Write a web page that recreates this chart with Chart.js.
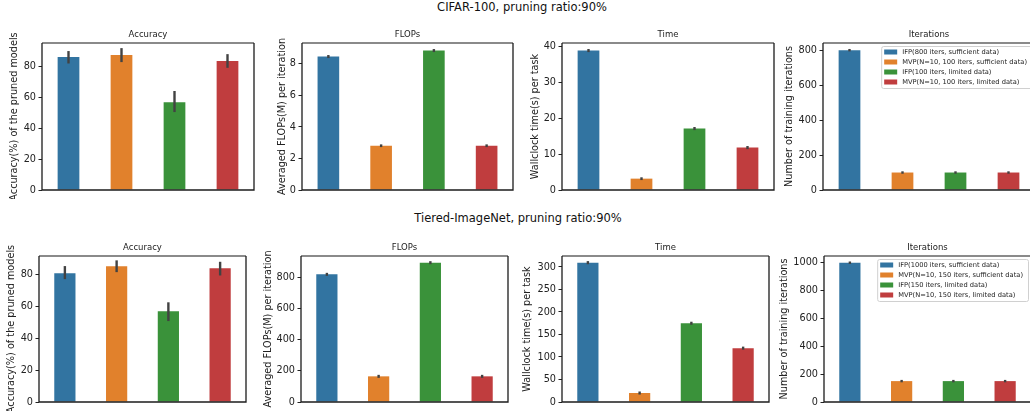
<!DOCTYPE html>
<html>
<head>
<meta charset="utf-8">
<script src="https://cdn.jsdelivr.net/npm/chart.js@4.4.1/dist/chart.umd.min.js"></script>
<style>
  body { margin: 0; width: 1030px; height: 414px; overflow: hidden; position: relative; background: #fff; font-family: "DejaVu Sans", sans-serif; }
  .sup { position: absolute; width: 400px; text-align: center; font-size: 11.5px; line-height: 14px; color: #111; }
  .panel { position: absolute; }
</style>
</head>
<body>
<div class="sup" style="left:322px; top:0px;">CIFAR-100, pruning ratio:90%</div>
<div class="sup" style="left:318px; top:211px;">Tiered-ImageNet, pruning ratio:90%</div>

<script>
'use strict'

// ---- data ----
let panelTitles = ['Accuracy', 'FLOPs', 'Time', 'Iterations'];
let yTitles = ['Accuracy(%) of the pruned models', 'Averaged FLOPs(M) per iteration',
  'Wallclock time(s) per task', 'Number of training iterations'];

let cifarLabels = ['IFP(800 iters, sufficient data)', 'MVP(N=10, 100 iters, sufficient data)',
  'IFP(100 iters, limited data)', 'MVP(N=10, 100 iters, limited data)'];
let tieredLabels = ['IFP(1000 iters, sufficient data)', 'MVP(N=10, 150 iters, sufficient data)',
  'IFP(150 iters, limited data)', 'MVP(N=10, 150 iters, limited data)'];

// CIFAR-100
let cifarAccuracy = [86.3, 87.5, 56.9, 83.7];
let cifarAccuracyLow = [82.8, 83.7, 51.3, 80.0];
let cifarAccuracyHigh = [89.3, 91.2, 63.4, 87.3];
let cifarFlops = [8.47, 2.81, 8.85, 2.81];
let cifarFlopsLow = [8.45, 2.80, 8.83, 2.80];
let cifarFlopsHigh = [8.49, 2.82, 8.87, 2.82];
let cifarTime = [38.8, 3.16, 17.1, 11.8];
let cifarTimeLow = [38.7, 3.1, 17.0, 11.7];
let cifarTimeHigh = [38.9, 3.2, 17.2, 11.9];
let cifarIters = [800, 100, 100, 100];

// Tiered-ImageNet
let tieredAccuracy = [81.0, 85.4, 57.2, 84.2];
let tieredAccuracyLow = [78.1, 82.5, 51.7, 80.4];
let tieredAccuracyHigh = [84.8, 88.4, 62.0, 87.5];
let tieredFlops = [821, 165, 896, 165];
let tieredFlopsLow = [819, 163, 894, 163];
let tieredFlopsHigh = [823, 167, 898, 167];
let tieredTime = [309.6, 20, 175, 119.7];
let tieredTimeLow = [308.8, 19.3, 174.3, 119.0];
let tieredTimeHigh = [310.4, 20.7, 175.7, 120.4];
let tieredIters = [1000, 150, 150, 150];

// tick labels and axis tops
let cifarTicks = [[0, 20, 40, 60, 80], [0, 2, 4, 6, 8], [0, 10, 20, 30, 40], [0, 200, 400, 600, 800]];
let cifarAxisMax = [95.3, 9.33, 40.9, 841];
let tieredTicks = [[0, 20, 40, 60, 80], [0, 200, 400, 600, 800], [0, 50, 100, 150, 200, 250, 300], [0, 200, 400, 600, 800, 1000]];
let tieredAxisMax = [91.9, 939, 324.4, 1048];

let colors = ['#3274a1', '#e1812c', '#3a923a', '#c03d3e'];

// ---- layout (pixels) ----
let rows = [
  { top: 43, bottom: 190, lefts: [42, 302, 562, 823], widths: [212, 211, 212, 212], titleOffsets: [28, 20, 27, 34] },
  { top: 256, bottom: 402, lefts: [39, 301, 562, 824], widths: [207, 207, 207, 207], titleOffsets: [28, 33, 35, 40] }
];

let fontFam = '"DejaVu Sans", sans-serif';
let tickFont = 9.7, yTitleFont = 9.7, titleFont = 8.5, tickPad = 2.5, tickLen = 3.5;
let titlePadTop = 3, titlePadBottom = 3;

// ---- plugins ----
let errorBars = {
  id: 'errorBars',
  afterDatasetsDraw(chart) {
    let ds = chart.data.datasets[0];
    if (!ds.errLow) return;
    let meta = chart.getDatasetMeta(0);
    let y = chart.scales.y;
    let ctx = chart.ctx;
    ctx.save();
    ctx.strokeStyle = '#424242';
    ctx.lineWidth = 2.4;
    ctx.lineCap = 'square';
    for (let i = 0; i < meta.data.length; i++) {
      let x = meta.data[i].x;
      ctx.beginPath();
      ctx.moveTo(x, y.getPixelForValue(ds.errLow[i]));
      ctx.lineTo(x, y.getPixelForValue(ds.errHigh[i]));
      ctx.stroke();
    }
    ctx.restore();
  }
};

let frame = {
  id: 'frame',
  afterDraw(chart) {
    let a = chart.chartArea, ctx = chart.ctx;
    ctx.save();
    ctx.strokeStyle = '#8a8a8a';
    ctx.lineWidth = 2;
    ctx.beginPath(); ctx.moveTo(a.left, a.top); ctx.lineTo(a.right, a.top); ctx.stroke();
    ctx.strokeStyle = '#1c1c1c';
    ctx.lineWidth = 1.3;
    ctx.beginPath();
    ctx.moveTo(a.left, a.top); ctx.lineTo(a.left, a.bottom);
    ctx.lineTo(a.right, a.bottom); ctx.lineTo(a.right, a.top);
    ctx.stroke();
    ctx.restore();
  }
};

let boxLegend = {
  id: 'boxLegend',
  afterDraw(chart, args, opts) {
    if (!opts.show) return;
    let a = chart.chartArea, ctx = chart.ctx;
    let labels = chart.data.labels;
    let fs = 6.7, pad = 3, patchW = 13, patchH = 5, gap = 5, rowH = 10;
    ctx.save();
    ctx.font = fs + 'px ' + fontFam;
    let textW = Math.max(...labels.map(l => ctx.measureText(l).width));
    let boxW = pad + patchW + gap + textW + 5;
    let boxH = 6 + rowH * (labels.length - 1) + 6;
    let right = a.right - 3, left = right - boxW, top = a.top + 3;
    ctx.fillStyle = 'rgba(255,255,255,0.85)';
    ctx.strokeStyle = '#d0d0d0';
    ctx.lineWidth = 1;
    ctx.beginPath();
    ctx.roundRect(left + 0.5, top + 0.5, boxW, boxH, 2);
    ctx.fill(); ctx.stroke();
    ctx.textBaseline = 'middle';
    for (let i = 0; i < labels.length; i++) {
      let cy = top + 6 + i * rowH;
      ctx.fillStyle = colors[i];
      ctx.fillRect(left + pad, cy - patchH / 2, patchW, patchH);
      ctx.fillStyle = '#222';
      ctx.fillText(labels[i], left + pad + patchW + gap, cy);
    }
    ctx.restore();
  }
};

// ---- build one panel ----
function makePanel(row, col, labels, values, low, high, ticks, axisMax) {
  let titleH = titlePadTop + titleFont * 1.2 + titlePadBottom;
  let bottomH = tickFont * 1.2 / 2 + tickPad;
  let axisW = row.titleOffsets[col] + yTitleFont * 1.2 / 2;
  let plotLeft = row.lefts[col], plotW = row.widths[col];

  let left = Math.floor(plotLeft - axisW);
  let top = Math.floor(row.top - titleH);
  let width = Math.ceil(plotLeft + plotW + 3) - left;
  let height = Math.ceil(row.bottom + bottomH) - top;
  let padLeft = plotLeft - axisW - left;
  let padTop = row.top - titleH - top;
  let padRight = left + width - (plotLeft + plotW);
  let padBottom = top + height - row.bottom;

  let canvas = document.createElement('canvas');
  canvas.className = 'panel';
  canvas.width = width; canvas.height = height;
  canvas.style.left = left + 'px'; canvas.style.top = top + 'px';
  canvas.style.width = width + 'px'; canvas.style.height = height + 'px';
  document.body.appendChild(canvas);

  new Chart(canvas.getContext('2d'), {
    type: 'bar',
    data: {
      labels: labels,
      datasets: [{
        data: values,
        errLow: low || values,
        errHigh: high || values,
        backgroundColor: colors,
        borderWidth: 0,
        categoryPercentage: 1.0,
        barPercentage: 0.41
      }]
    },
    options: {
      responsive: false,
      animation: false,
      layout: { padding: { left: padLeft, top: padTop, right: padRight, bottom: padBottom } },
      scales: {
        x: { display: false },
        y: {
          min: 0,
          max: axisMax,
          afterBuildTicks: s => { s.ticks = ticks.map(v => ({ value: v })); },
          afterFit: s => { s.width = axisW; },
          border: { display: false },
          grid: { drawOnChartArea: false, drawTicks: true, tickLength: tickLen, color: '#222', lineWidth: 1 },
          ticks: {
            padding: tickPad, color: '#222', font: { family: fontFam, size: tickFont },
            callback: v => String(v)
          },
          title: {
            display: true, text: yTitles[col], color: '#222', padding: 0,
            font: { family: fontFam, size: yTitleFont }
          }
        }
      },
      plugins: {
        legend: { display: false },
        tooltip: { enabled: false },
        title: {
          display: true, text: panelTitles[col], fullSize: false, color: '#222',
          font: { family: fontFam, size: titleFont, weight: 'normal' },
          padding: { top: titlePadTop, bottom: titlePadBottom }
        },
        boxLegend: { show: col === 3 }
      }
    },
    plugins: [errorBars, frame, boxLegend]
  });
}

makePanel(rows[0], 0, cifarLabels, cifarAccuracy, cifarAccuracyLow, cifarAccuracyHigh, cifarTicks[0], cifarAxisMax[0]);
makePanel(rows[0], 1, cifarLabels, cifarFlops, cifarFlopsLow, cifarFlopsHigh, cifarTicks[1], cifarAxisMax[1]);
makePanel(rows[0], 2, cifarLabels, cifarTime, cifarTimeLow, cifarTimeHigh, cifarTicks[2], cifarAxisMax[2]);
makePanel(rows[0], 3, cifarLabels, cifarIters, null, null, cifarTicks[3], cifarAxisMax[3]);

makePanel(rows[1], 0, tieredLabels, tieredAccuracy, tieredAccuracyLow, tieredAccuracyHigh, tieredTicks[0], tieredAxisMax[0]);
makePanel(rows[1], 1, tieredLabels, tieredFlops, tieredFlopsLow, tieredFlopsHigh, tieredTicks[1], tieredAxisMax[1]);
makePanel(rows[1], 2, tieredLabels, tieredTime, tieredTimeLow, tieredTimeHigh, tieredTicks[2], tieredAxisMax[2]);
makePanel(rows[1], 3, tieredLabels, tieredIters, null, null, tieredTicks[3], tieredAxisMax[3]);
</script>
</body>
</html>
